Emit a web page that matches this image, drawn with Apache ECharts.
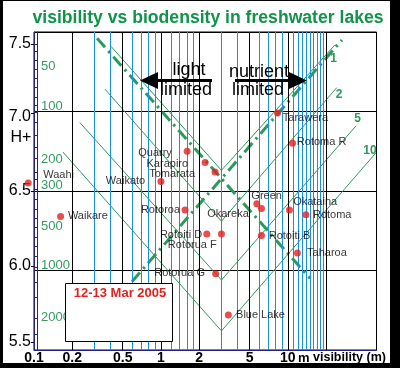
<!DOCTYPE html>
<html><head><meta charset="utf-8">
<script src="https://cdn.jsdelivr.net/npm/echarts@6/dist/echarts.min.js"></script>
<style>html,body{margin:0;padding:0;background:#fff}#c{width:400px;height:368px}</style>
</head><body><div id="c"></div>
<script>
// ---- data ----
const lakeNames = ['Waahi','Waikare','Waikato','Quarry','Karapiro','Tomarata','Tarawera','Rotoma R','Rotoroa','Green','Okareka','Okataina','Rotoma','Rotoiti D','Rotorua F','Rotoiti B','Taharoa','Rotorua G','Blue Lake'];
const lakeVisibility = [0.09,0.162,1.0,1.61,2.23,2.67,8.3,10.9,1.55,5.7,6.2,10.3,13.9,2.3,3.0,6.2,11.9,2.7,3.4];
const lakePH = [6.55,6.34,6.56,6.75,6.68,6.62,6.99,6.80,6.38,6.42,6.39,6.38,6.35,6.23,6.23,6.22,6.11,5.98,5.72];

const curveNames = ['1','2','5','10'];
const curveVisibility = [[0.404,3,23.6],[0.363,3,24.3],[0.230,3,34.5],[0.169,3,49.5]];
const curvePH = [[7.41,6.63,7.42],[7.14,6.31,7.15],[6.93,5.94,6.91],[6.745,5.62,6.74]];

const lightLimitVis = [0.314, 15.0];
const lightLimitPH = [7.46, 5.95];
const nutrientLimitVis = [0.592, 26.7];
const nutrientLimitPH = [5.93, 7.45];

const xTickLabels = [0.1,0.2,0.5,1,2,5,10];
const majorGridX = [0.2,0.5,1,2,5,10,20];
const minorGridX = [0.3,0.4,0.6,0.7,0.8,0.9,1.2,1.4,1.6,1.8,3,4,6,7,8,9,11,12,13,14,15,16,17,18,19];
const phTickMarks = [7.425,6.99,6.5,6.024,5.548];

const densityLabels = ['50','100','200','300','500','1000','2000'];
const densityLabelPH = [7.284,7.033,6.697,6.535,6.278,6.031,5.704];
const densityTickPH = [7.425,7.381,7.324,7.267,7.211,7.154,7.091,7.041,6.997,6.934,6.852,6.777,6.708,6.620,6.576,6.513,6.450,6.387,6.330,6.274,6.211,6.154,6.091,6.022,5.928,5.833,5.701,5.601];

// ---- styles / layout (not data) ----
const NAVY = '#27237f', GREEN = '#2a9a5a', TGREEN = '#0f944a', BLUE = '#1a8ee0', RED = '#e32020';
const FONT = 'Arial, "Liberation Sans", sans-serif';
const labelPlace = {
  'Waahi':['right',11.5,0,-8], 'Waikare':['right',3.8,0,0], 'Waikato':['left',12.2,0,0],
  'Quarry':['left',11.8,0,1.7], 'Karapiro':['left',13.5,0,1.3], 'Tomarata':['left',16.5,0,2.3],
  'Tarawera':['right',1.8,0,4.7], 'Rotoma R':['right',0.8,0,-1.5], 'Rotoroa':['left',1.5,0,0],
  'Green':['inside',0,9.8,-7.6], 'Okareka':['left',9.2,0,5.7], 'Okataina':['right',0.2,0,-7.7],
  'Rotoma':['right',3.5,0,0], 'Rotoiti D':['left',1.2,0,0.7], 'Rotorua F':['left',1.2,0,10.7],
  'Rotoiti B':['right',3.8,0,0.4], 'Taharoa':['right',6.2,0,0], 'Rotorua G':['left',7.2,0,-1],
  'Blue Lake':['right',4.2,0,0]
};
const curveLabelOffset = [[-1.5,13.8],[2.3,7],[1.5,-7],[-6,-1.7]];
const yShift = {s0:[0,0,17,0], s1:[0,0,9,0], s2:[0,0,0,0], s3:[10,0,0,0], s4:[23,0,0,0]};

const rich = {};
Object.keys(yShift).forEach(k => { rich[k] = {padding: yShift[k], fontSize:16, color:'#000', fontFamily:FONT}; });

const series = [];
series.push({type:'line', z:1, data:[[1,6.5]], showSymbol:false, lineStyle:{width:0}, silent:true,
  markLine:{silent:true, symbol:['none','none'], label:{show:false}, animation:false,
    lineStyle:{color:BLUE, width:1, type:'solid'}, data: minorGridX.map(v=>({xAxis:v}))}});
series.push({type:'line', z:2, data:[[1,6.5]], showSymbol:false, lineStyle:{width:0}, silent:true,
  markLine:{silent:true, symbol:['none','none'], label:{show:false}, animation:false,
    lineStyle:{color:'#000', width:1, type:'solid'}, data: majorGridX.map(v=>({xAxis:v}))}});
curveNames.forEach((n,i) => {
  const pts = curveVisibility[i].map((v,j)=>[v, curvePH[i][j]]);
  series.push({type:'line', z:3, name:'curve '+n, data: pts, showSymbol:false, silent:true,
    lineStyle:{color:GREEN, width:1},
    markPoint:{symbol:'circle', symbolSize:0, silent:true, animation:false,
      label:{show:true, position:'inside', formatter:'{b}', offset:curveLabelOffset[i], color:GREEN, fontWeight:'bold', fontSize:12, fontFamily:FONT},
      data:[{name:n, coord: pts[pts.length-1]}]}});
});
[[lightLimitVis, lightLimitPH],[nutrientLimitVis, nutrientLimitPH]].forEach(([xs,ys]) => {
  series.push({type:'line', z:4, clip:false, showSymbol:false, silent:true, data: xs.map((v,j)=>[v, ys[j]]),
    lineStyle:{color:GREEN, width:3, type:[12,5,2.5,5], cap:'butt'}});
});
series.push({type:'scatter', z:5, clip:false, symbol:'circle', symbolSize:7, itemStyle:{color:RED},
  data: lakeNames.map((n,i) => {
    const p = labelPlace[n];
    return {name:n, value:[lakeVisibility[i], lakePH[i]],
      label:{show:true, position:p[0], distance:p[1], offset:[p[2],p[3]], formatter:'{b}', color:'#000', fontSize:11, fontFamily:FONT}};
  })});
series.push({type:'line', z:5, data:[[1,6.5]], showSymbol:false, lineStyle:{width:0}, silent:true,
  markPoint:{symbol:'circle', symbolSize:0, silent:true, animation:false,
    label:{show:true, position:'bottom', distance:1, formatter:'{b}', color:'#000', fontWeight:'bold', fontSize:14, fontFamily:FONT},
    data: xTickLabels.map(v=>({name:String(v), coord:[v,5.5]}))}});

const nearestIdx = (arr, v) => { let b=0; arr.forEach((a,i)=>{ if (Math.abs(a-v) < Math.abs(arr[b]-v)) b=i; }); return b; };

const option = {
  animation:false,
  backgroundColor:'#fff',
  grid:{left:34, right:23.5, top:32, bottom:18, show:true, borderColor:'#000', borderWidth:1, backgroundColor:'rgba(0,0,0,0)'},
  xAxis:{type:'log', logBase:10, min:0.1, max:50, axisLine:{show:true, onZero:false, lineStyle:{color:NAVY}},
    axisTick:{show:false}, axisLabel:{show:false}, splitLine:{show:false}, minorSplitLine:{show:false}},
  yAxis:[
    {type:'value', min:5.5, max:7.5, interval:0.5, position:'left',
      axisLine:{show:true, lineStyle:{color:NAVY}}, axisTick:{show:false},
      axisLabel:{margin:3, fontSize:16, color:'#000', fontFamily:FONT,
        formatter: v => '{s' + Math.round((v-5.5)/0.5) + '|' + v.toFixed(1) + '}', rich: rich},
      splitLine:{show:true, lineStyle:{color:'#000', width:1}}},
    {type:'value', min:5.5, max:7.5, position:'left', axisLine:{show:false},
      axisTick:{show:true, inside:true, length:4, lineStyle:{color:NAVY}, customValues: densityTickPH},
      axisLabel:{show:true, inside:true, margin:7, customValues: densityLabelPH, color:'#349a62', fontSize:13,
        fontFamily:'"Liberation Sans Narrow", "Arial Narrow", Arial, sans-serif',
        formatter: v => densityLabels[nearestIdx(densityLabelPH, v)]},
      splitLine:{show:false}},
    {type:'value', min:5.5, max:7.5, position:'left', offset:-3, axisLine:{show:true, lineStyle:{color:NAVY}},
      axisTick:{show:false}, axisLabel:{show:false}, splitLine:{show:false}},
    {type:'value', min:5.5, max:7.5, position:'left', axisLine:{show:false},
      axisTick:{show:true, inside:false, length:3, lineStyle:{color:'#000'}, customValues: phTickMarks},
      axisLabel:{show:false}, splitLine:{show:false}}
  ],
  series: series,
  graphic:[
    {type:'text', z:100, style:{text:'visibility vs biodensity in freshwater lakes', x:208, y:18.5, align:'center', verticalAlign:'middle', fontSize:17.6, fontWeight:'bold', fontFamily:FONT, fill:TGREEN}},
    {type:'text', z:100, style:{text:'H+', x:21, y:137.5, align:'center', verticalAlign:'middle', fontSize:16, fontFamily:FONT, fill:'#000'}},
    {type:'text', z:100, style:{text:'m', x:298, y:358, align:'left', verticalAlign:'middle', fontSize:13, fontWeight:'bold', fontFamily:FONT, fill:'#000'}},
    {type:'text', z:100, style:{text:'visibility (m)', x:313, y:358, align:'left', verticalAlign:'middle', fontSize:12.5, fontWeight:'bold', fontFamily:FONT, fill:'#000'}},
    {type:'text', z:100, style:{text:'light', x:189, y:70, align:'center', verticalAlign:'middle', fontSize:18, fontFamily:FONT, fill:'#000'}},
    {type:'text', z:100, style:{text:'limited', x:186, y:90, align:'center', verticalAlign:'middle', fontSize:18, fontFamily:FONT, fill:'#000'}},
    {type:'text', z:100, style:{text:'nutrient', x:259, y:72, align:'center', verticalAlign:'middle', fontSize:18, fontFamily:FONT, fill:'#000'}},
    {type:'text', z:100, style:{text:'limited', x:258, y:90, align:'center', verticalAlign:'middle', fontSize:18, fontFamily:FONT, fill:'#000'}},
    {type:'line', z:100, shape:{x1:156, y1:80.5, x2:212, y2:80.5}, style:{stroke:'#000', lineWidth:3}},
    {type:'polygon', z:100, shape:{points:[[140,80.5],[158,72],[158,89]]}, style:{fill:'#000'}},
    {type:'line', z:100, shape:{x1:235, y1:80.5, x2:291, y2:80.5}, style:{stroke:'#000', lineWidth:3}},
    {type:'polygon', z:100, shape:{points:[[307,80.5],[289,72],[289,89]]}, style:{fill:'#000'}},
    {type:'rect', z:100, shape:{x:65.5, y:283.5, width:107, height:58}, style:{fill:'#fff', stroke:'#000', lineWidth:1}},
    {type:'text', z:101, style:{text:'12-13 Mar 2005', x:120, y:293, align:'center', verticalAlign:'middle', fontSize:13, fontWeight:'bold', fontFamily:FONT, fill:RED}},
    {type:'rect', z:200, shape:{x:0, y:0, width:3, height:368}, style:{fill:'#000'}},
    {type:'rect', z:200, shape:{x:0, y:0, width:400, height:1}, style:{fill:'#000'}},
    {type:'rect', z:200, shape:{x:390, y:0, width:10, height:368}, style:{fill:'#000'}},
    {type:'rect', z:200, shape:{x:0, y:363, width:400, height:5}, style:{fill:'#000'}}
  ]
};
const chart = echarts.init(document.getElementById('c'), null, {renderer:'canvas'});
chart.setOption(option);
</script>
</body></html>
